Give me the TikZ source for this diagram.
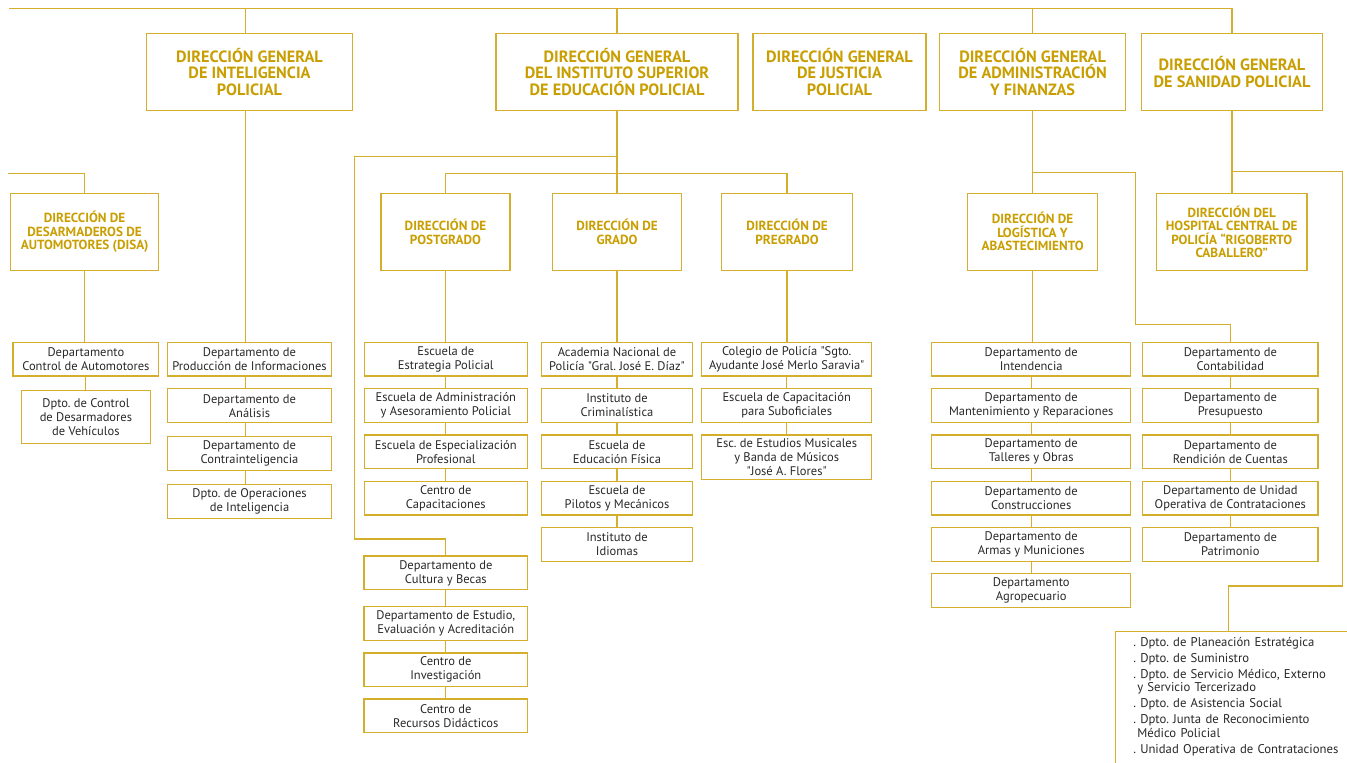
\documentclass[tikz,border=0pt]{standalone}
\usepackage{fontspec}
\setmainfont{PT Sans}[Ligatures=TeXOff]
\definecolor{gline}{RGB}{212,175,45}
\definecolor{gtext}{RGB}{200,158,0}
\definecolor{btext}{RGB}{40,40,40}
\begin{document}
\frenchspacing
\begin{tikzpicture}[x=1pt,y=-1pt,
  conn/.style={draw=gline,line width=1.1pt},
  topbox/.style={draw=gline,line width=1.2pt,rectangle,minimum height=77pt,text=gtext,
    font=\fontsize{16.3}{16.7}\selectfont\bfseries,align=center,inner sep=2pt},
  dirbox/.style={draw=gline,line width=1.2pt,rectangle,minimum height=77pt,text=gtext,
    font=\fontsize{13.2}{13.5}\selectfont\bfseries,align=center,inner sep=2pt},
  depbox/.style={draw=gline,line width=1.2pt,rectangle,minimum height=33.7pt,text=btext,
    font=\fontsize{12.5}{14}\selectfont,align=center,inner sep=1pt},
  listbox/.style={draw=gline,line width=1.2pt,rectangle,anchor=north west,text width=225pt,
    inner xsep=17.7pt,inner ysep=6pt,align=left,text=btext,font=\fontsize{12.7}{13.3}\selectfont},
]
\useasboundingbox (0,0) rectangle (1347,763);
\clip (0,0) rectangle (1347,763);

% ---------- top level ----------
\node[topbox,minimum width=206pt] (intel) at (249.5,71.8) {DIRECCIÓN GENERAL\\DE INTELIGENCIA\\POLICIAL};
\node[topbox,minimum width=242pt] (edu) at (617,71.8) {DIRECCIÓN GENERAL\\DEL INSTITUTO SUPERIOR\\DE EDUCACIÓN POLICIAL};
\node[topbox,minimum width=173pt] (just) at (839.5,71.8) {DIRECCIÓN GENERAL\\DE JUSTICIA\\POLICIAL};
\node[topbox,minimum width=186pt] (admin) at (1032.6,71.8) {DIRECCIÓN GENERAL\\DE ADMINISTRACIÓN\\Y FINANZAS};
\node[topbox,minimum width=181pt] (sanidad) at (1232,71.8) {DIRECCIÓN GENERAL\\DE SANIDAD POLICIAL};

\coordinate (tl) at (8.9,8.7);
\coordinate (ic) at ([xshift=-4.4pt]intel.north);
\draw[conn] (tl) -| (sanidad.north);
\draw[conn] (ic) |- (tl);
\draw[conn] (edu.north) |- (tl);
\draw[conn] (admin.north) |- (tl);

% ---------- DISA ----------
\node[dirbox,minimum width=147.8pt] (disa) at (84.6,231.8) {DIRECCIÓN DE\\DESARMADEROS DE\\AUTOMOTORES (DISA)};
\coordinate (dl) at (8,173.3);
\draw[conn] (dl) -| (disa.north);
\node[depbox,minimum width=145.7pt] (ctrl) at (85.9,359.2) {Departamento\\Control de Automotores};
\node[depbox,minimum width=129.2pt,minimum height=53pt] (desarm) at (85.9,416.8) {Dpto. de Control\\de Desarmadores\\de Vehículos};
\draw[conn] (disa.south) -- (disa.south |- ctrl.north);
\draw[conn] (ctrl.south) -- (desarm.north);

% ---------- Inteligencia column ----------
\node[depbox,minimum width=163.6pt] (prod) at (249.5,359.2) {Departamento de\\Producción de Informaciones};
\node[depbox,minimum width=163.6pt] (anal) at (249.5,405.7) {Departamento de\\Análisis};
\node[depbox,minimum width=163.6pt] (contra) at (249.5,453.7) {Departamento de\\Contrainteligencia};
\node[depbox,minimum width=163.6pt] (oper) at (249.5,501.7) {Dpto. de Operaciones\\de Inteligencia};
\coordinate (ics) at ([xshift=-4.4pt]intel.south);
\draw[conn] (ics) -- (ics |- prod.north);
\draw[conn] (ics |- prod.south) -- (ics |- anal.north);
\draw[conn] (ics |- anal.south) -- (ics |- contra.north);
\draw[conn] (ics |- contra.south) -- (ics |- oper.north);

% ---------- Educación ----------
\node[dirbox,minimum width=129pt] (post) at (445.5,231.8) {DIRECCIÓN DE\\POSTGRADO};
\node[dirbox,minimum width=129.7pt] (grado) at (617,231.8) {DIRECCIÓN DE\\GRADO};
\node[dirbox,minimum width=130.4pt] (pre) at (787,231.8) {DIRECCIÓN DE\\PREGRADO};
\draw[conn] (edu.south) -- (grado.north);
\coordinate (eh) at (617,173.5);
\draw[conn] (post.north) |- (eh) -| (pre.north);

\node[depbox,minimum width=163pt] (esc1) at (445.8,359.2) {Escuela de\\Estrategia Policial};
\node[depbox,minimum width=163pt] (esc2) at (445.8,405.5) {Escuela de Administración\\y Asesoramiento Policial};
\node[depbox,minimum width=163pt] (esc3) at (445.8,451.8) {Escuela de Especialización\\Profesional};
\node[depbox,minimum width=163pt] (cap) at (445.8,498.1) {Centro de\\Capacitaciones};
\draw[conn] (post.south) -- (post.south |- esc1.north);
\draw[conn] (esc1.south) -- (esc2.north);
\draw[conn] (esc2.south) -- (esc3.north);
\draw[conn] (esc3.south) -- (cap.north);

\node[depbox,minimum width=150.6pt] (acad) at (617,359.2) {Academia Nacional de\\Policía "Gral. José E. Díaz"};
\node[depbox,minimum width=150.6pt] (crim) at (617,405.5) {Instituto de\\Criminalística};
\node[depbox,minimum width=150.6pt] (edfis) at (617,451.8) {Escuela de\\Educación Física};
\node[depbox,minimum width=150.6pt] (pilot) at (617,498.1) {Escuela de\\Pilotos y Mecánicos};
\node[depbox,minimum width=150.6pt] (idio) at (617,544.4) {Instituto de\\Idiomas};
\draw[conn] (grado.south) -- (acad.north);
\draw[conn] (acad.south) -- (crim.north);
\draw[conn] (crim.south) -- (edfis.north);
\draw[conn] (edfis.south) -- (pilot.north);
\draw[conn] (pilot.south) -- (idio.north);

\node[depbox,minimum width=170pt] (colegio) at (786.7,359.2) {Colegio de Policía "Sgto.\\Ayudante José Merlo Saravia"};
\node[depbox,minimum width=170pt] (subof) at (786.7,405.5) {Escuela de Capacitación\\para Suboficiales};
\node[depbox,minimum width=170pt,minimum height=44.3pt] (musica) at (786.7,457.2) {Esc. de Estudios Musicales\\y Banda de Músicos\\"José A. Flores"};
\draw[conn] (pre.south) -- (pre.south |- colegio.north);
\draw[conn] (colegio.south) -- (subof.north);
\draw[conn] (subof.south) -- (musica.north);

\node[depbox,minimum width=163.7pt] (cult) at (445.8,572.9) {Departamento de\\Cultura y Becas};
\node[depbox,minimum width=163.7pt] (estud) at (445.8,623.4) {Departamento de Estudio,\\Evaluación y Acreditación};
\node[depbox,minimum width=163.7pt] (invest) at (445.8,669.8) {Centro de\\Investigación};
\node[depbox,minimum width=163.7pt] (recur) at (445.8,715.8) {Centro de\\Recursos Didácticos};
\coordinate (ev) at (617,156.7);
\coordinate (eb) at (354.7,539);
\draw[conn] (ev) -| (eb) -| (cult.north);
\draw[conn] (cult.south) -- (estud.north);
\draw[conn] (estud.south) -- (invest.north);
\draw[conn] (invest.south) -- (recur.north);

% ---------- Administración ----------
\node[dirbox,minimum width=129.6pt] (logis) at (1032.6,231.8) {DIRECCIÓN DE\\LOGÍSTICA Y\\ABASTECIMIENTO};
\draw[conn] (admin.south) -- (logis.north);
\node[depbox,minimum width=199pt] (inten) at (1031.2,359.2) {Departamento de\\Intendencia};
\node[depbox,minimum width=199pt] (mant) at (1031.2,405.5) {Departamento de\\Mantenimiento y Reparaciones};
\node[depbox,minimum width=199pt] (tall) at (1031.2,451.8) {Departamento de\\Talleres y Obras};
\node[depbox,minimum width=199pt] (constr) at (1031.2,498.1) {Departamento de\\Construcciones};
\node[depbox,minimum width=199pt] (armas) at (1031.2,544.4) {Departamento de\\Armas y Municiones};
\node[depbox,minimum width=199pt] (agro) at (1031.2,590.7) {Departamento\\Agropecuario};
\draw[conn] (logis.south) -- (logis.south |- inten.north);
\draw[conn] (inten.south) -- (mant.north);
\draw[conn] (mant.south) -- (tall.north);
\draw[conn] (tall.south) -- (constr.north);
\draw[conn] (constr.south) -- (armas.north);
\draw[conn] (armas.south) -- (agro.north);

\node[depbox,minimum width=175.3pt] (contab) at (1230.3,359.2) {Departamento de\\Contabilidad};
\node[depbox,minimum width=175.3pt] (presu) at (1230.3,405.5) {Departamento de\\Presupuesto};
\node[depbox,minimum width=175.3pt] (rend) at (1230.3,451.8) {Departamento de\\Rendición de Cuentas};
\node[depbox,minimum width=175.3pt] (unid) at (1230.3,498.1) {Departamento de Unidad\\Operativa de Contrataciones};
\node[depbox,minimum width=175.3pt] (patri) at (1230.3,544.4) {Departamento de\\Patrimonio};
\coordinate (aj) at (1032.6,172.3);
\coordinate (ab) at (1135.3,324.3);
\draw[conn] (aj) -| (ab) -| (contab.north);
\draw[conn] (contab.south) -- (presu.north);
\draw[conn] (presu.south) -- (rend.north);
\draw[conn] (rend.south) -- (unid.north);
\draw[conn] (unid.south) -- (patri.north);

% ---------- Sanidad ----------
\node[dirbox,minimum width=150.7pt] (hosp) at (1231.7,231.8) {DIRECCIÓN DEL\\HOSPITAL CENTRAL DE\\POLICÍA “RIGOBERTO\\CABALLERO”};
\draw[conn] (sanidad.south) -- (sanidad.south |- hosp.north);
\node[listbox] (lista) at (1115,630.7) {\frenchspacing . Dpto. de Planeación Estratégica\\[2.7pt]
. Dpto. de Suministro\\[2.7pt]
. Dpto. de Servicio Médico, Externo\\
\hspace*{4pt}y Servicio Tercerizado\\[2.7pt]
. Dpto. de Asistencia Social\\[2.7pt]
. Dpto. Junta de Reconocimiento\\
\hspace*{4pt}Médico Policial\\[2.7pt]
. Unidad Operativa de Contrataciones\rule[-14pt]{0pt}{1pt}};
\coordinate (sj) at (1231.7,171.7);
\coordinate (sr) at (1342.7,586);
\coordinate (lc) at (1228.3,630.7);
\draw[conn] (sj) -| (sr) -| (lc);
\end{tikzpicture}
\end{document}
